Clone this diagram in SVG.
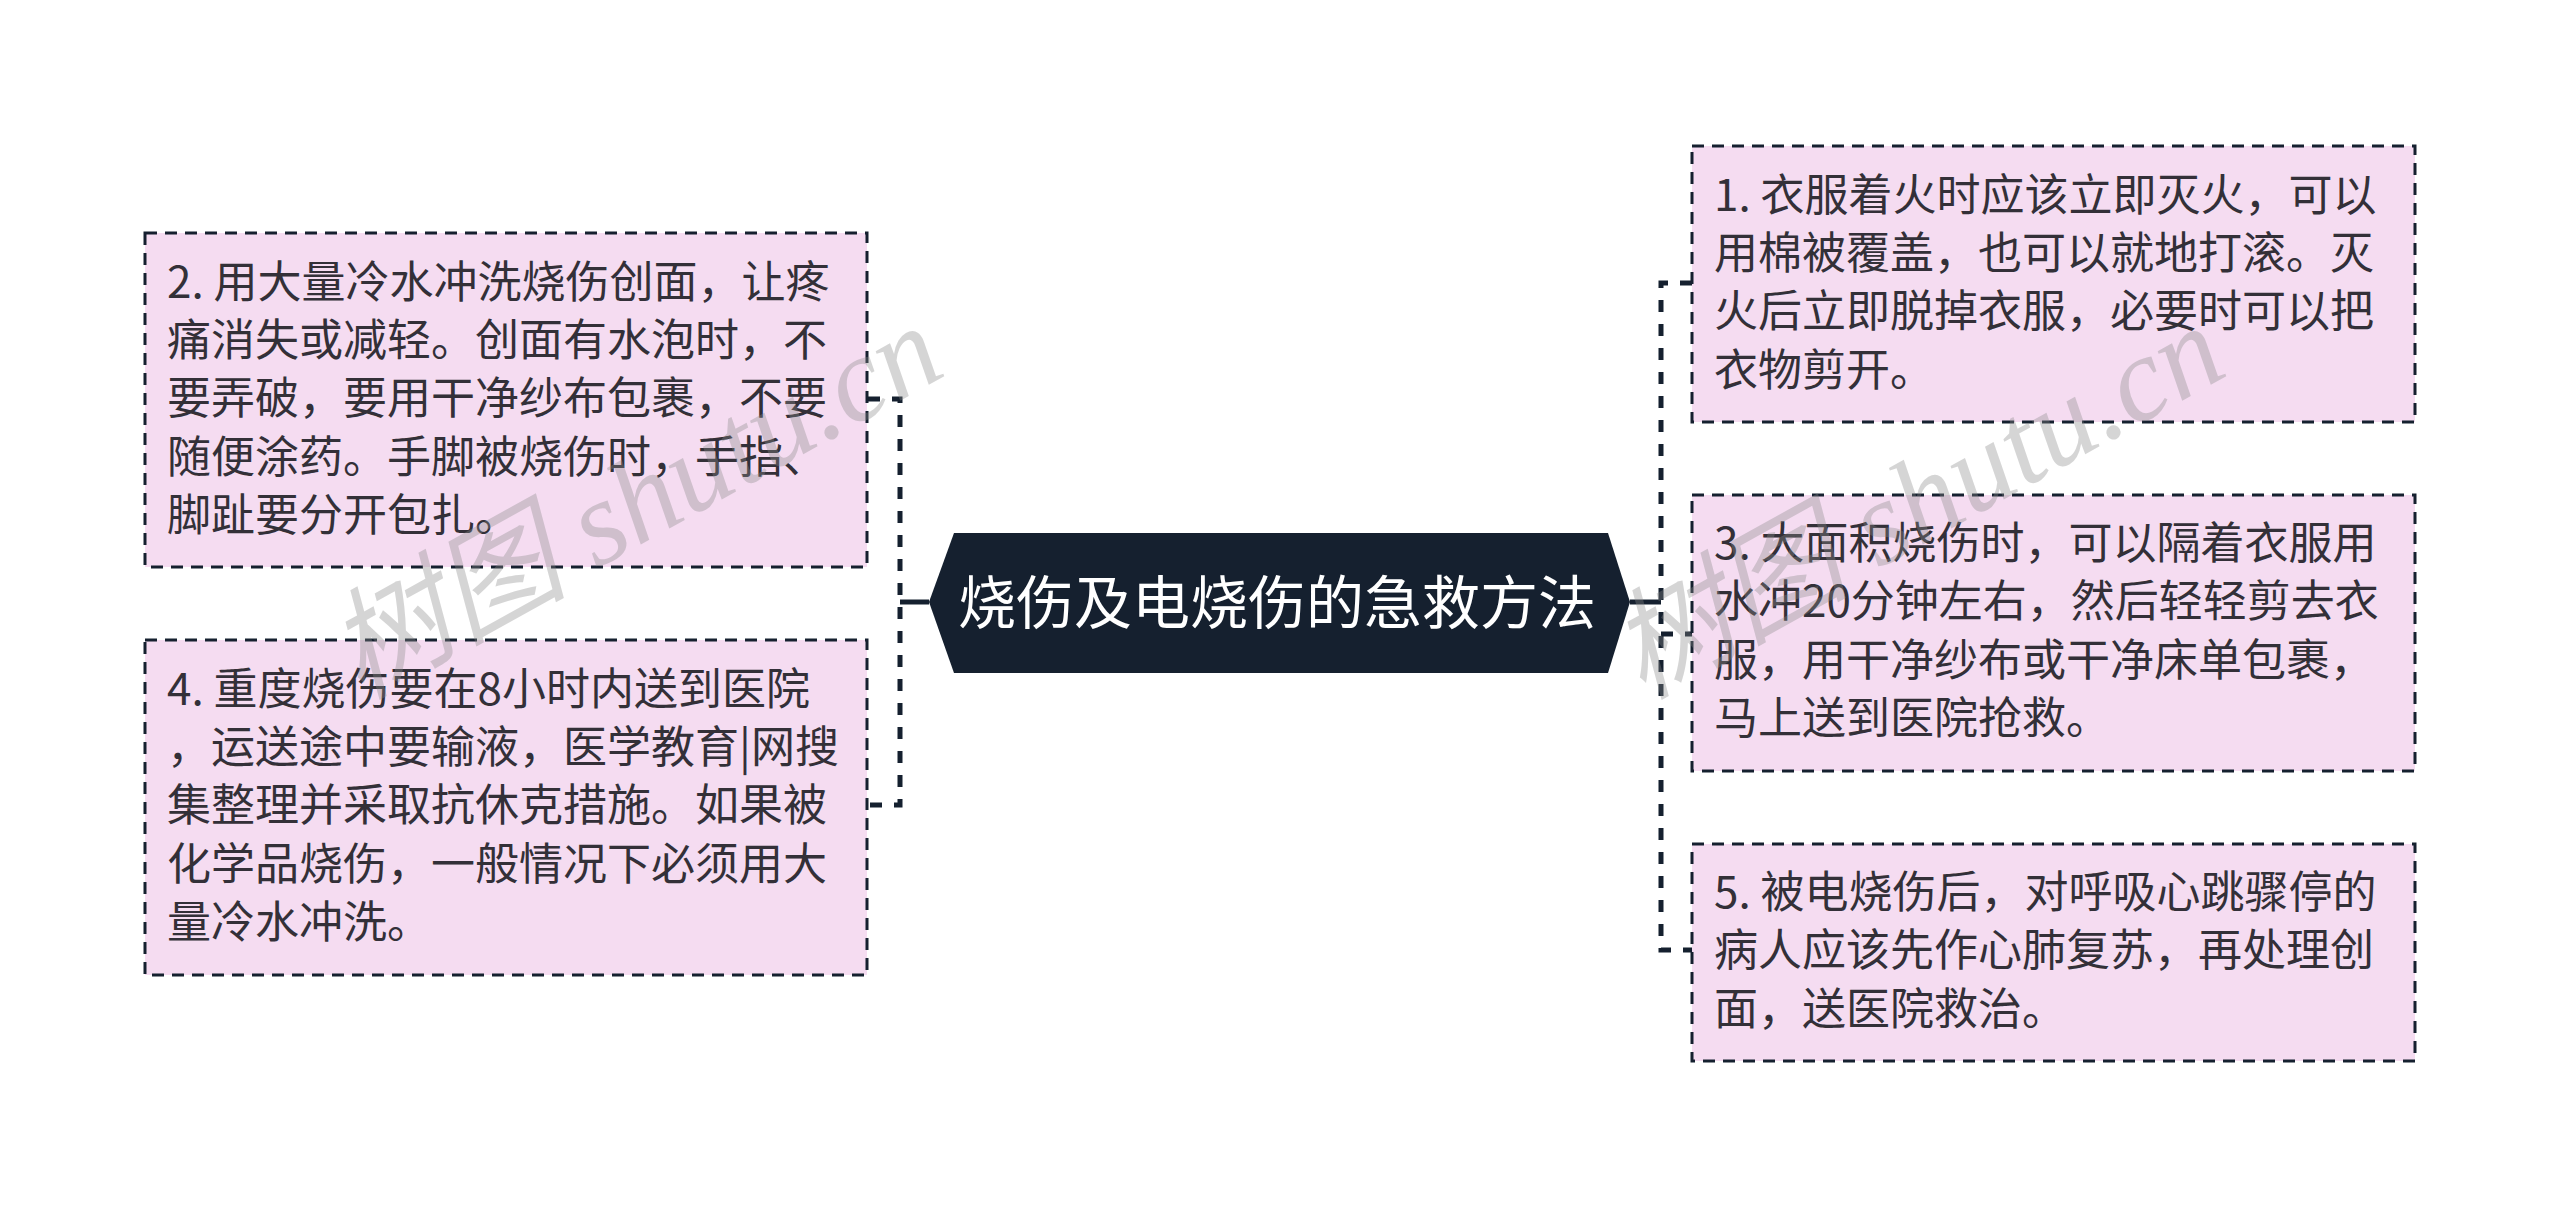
<svg xmlns="http://www.w3.org/2000/svg" width="2560" height="1207" viewBox="0 0 2560 1207">
<style>
.box{fill:#f5dcf1;stroke:#15202f;stroke-width:3;stroke-dasharray:12 8}
.t{font-family:"Noto Sans CJK SC","Liberation Sans",sans-serif;font-size:44px;fill:#333038}
.title{font-family:"Noto Sans CJK SC","Liberation Sans",sans-serif;font-size:58px;fill:#fff}
.c{fill:none;stroke:#15202f;stroke-width:5;stroke-dasharray:12 12}
.s{fill:none;stroke:#15202f;stroke-width:5}
.w{font-family:"Liberation Serif","Noto Sans CJK SC",serif;font-size:120px;font-style:italic;fill:#8a8a8a;opacity:.35}
</style>
<rect width="2560" height="1207" fill="#fff"/>
<g id="connectors">
<path class="s" d="M929 602H900"/>
<path class="c" d="M868 399H900V805H868"/>
<path class="s" d="M1630 602H1661"/>
<path class="c" d="M1692 283H1661V950H1692"/>
<path class="c" d="M1661 634H1692"/>
</g>
<g id="root">
<polygon points="929,602 954,533 1608,533 1630,602 1608,673 954,673" fill="#15202f"/>
<text class="title" x="958" y="624">烧伤及电烧伤的急救方法</text>
</g>
<g id="node2">
<rect class="box" x="145" y="233" width="722" height="334"/>
<text class="t" x="167" y="298">2. 用大量冷水冲洗烧伤创面，让疼</text>
<text class="t" x="167" y="356">痛消失或减轻。创面有水泡时，不</text>
<text class="t" x="167" y="414">要弄破，要用干净纱布包裹，不要</text>
<text class="t" x="167" y="473">随便涂药。手脚被烧伤时，手指、</text>
<text class="t" x="167" y="531">脚趾要分开包扎。</text>
</g>
<g id="node4">
<rect class="box" x="145" y="640" width="722" height="335"/>
<text class="t" x="167" y="705">4. 重度烧伤要在8小时内送到医院</text>
<text class="t" x="167" y="763">，运送途中要输液，医学教育|网搜</text>
<text class="t" x="167" y="821">集整理并采取抗休克措施。如果被</text>
<text class="t" x="167" y="880">化学品烧伤，一般情况下必须用大</text>
<text class="t" x="167" y="938">量冷水冲洗。</text>
</g>
<g id="node1">
<rect class="box" x="1692" y="146" width="723" height="276"/>
<text class="t" x="1714" y="211">1. 衣服着火时应该立即灭火，可以</text>
<text class="t" x="1714" y="269">用棉被覆盖，也可以就地打滚。灭</text>
<text class="t" x="1714" y="327">火后立即脱掉衣服，必要时可以把</text>
<text class="t" x="1714" y="386">衣物剪开。</text>
</g>
<g id="node3">
<rect class="box" x="1692" y="495" width="723" height="276"/>
<text class="t" x="1714" y="559">3. 大面积烧伤时，可以隔着衣服用</text>
<text class="t" x="1714" y="617">水冲20分钟左右，然后轻轻剪去衣</text>
<text class="t" x="1714" y="676">服，用干净纱布或干净床单包裹，</text>
<text class="t" x="1714" y="734">马上送到医院抢救。</text>
</g>
<g id="node5">
<rect class="box" x="1692" y="844" width="723" height="217"/>
<text class="t" x="1714" y="908">5. 被电烧伤后，对呼吸心跳骤停的</text>
<text class="t" x="1714" y="966">病人应该先作心肺复苏，再处理创</text>
<text class="t" x="1714" y="1025">面，送医院救治。</text>
</g>
<g id="watermarks">
<text class="w" transform="translate(360 700) rotate(-29)">树图 shutu.cn</text>
<text class="w" transform="translate(1642 700) rotate(-29)">树图 shutu.cn</text>
</g>
</svg>
